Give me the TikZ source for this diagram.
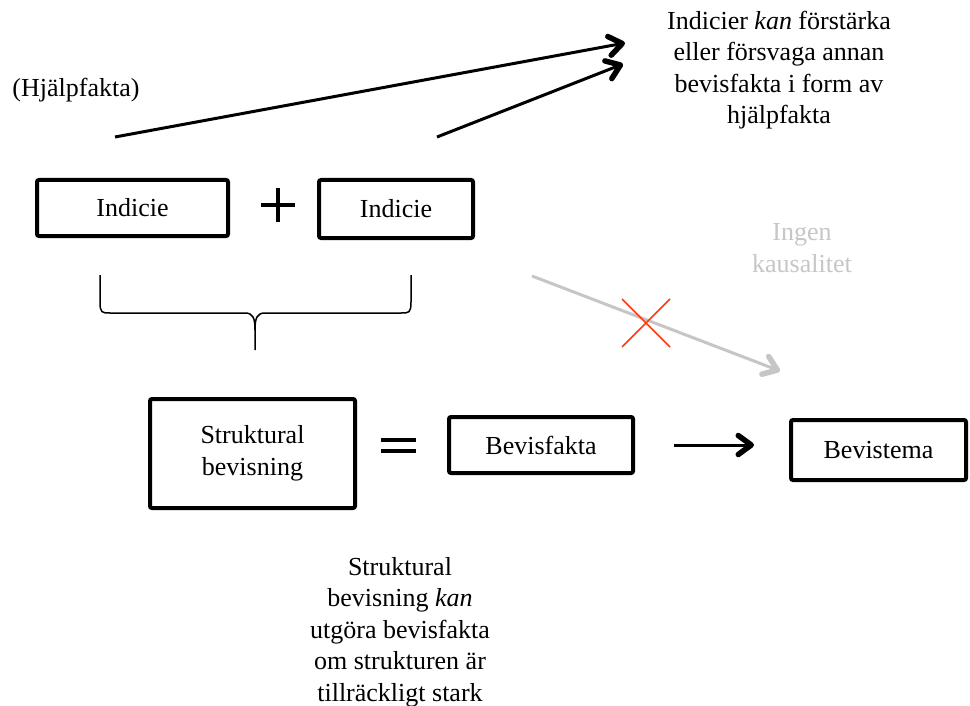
\documentclass[tikz,border=0pt]{standalone}
\usepackage{fontspec}
\setmainfont{Liberation Serif}
\usetikzlibrary{arrows.meta}
\definecolor{bvtext}{HTML}{000000}
\definecolor{bvgray}{HTML}{C6C6C6}
\definecolor{bvred}{HTML}{FF3A10}
\newcommand{\bvfont}{\fontsize{26}{31.5}\selectfont}
\tikzset{
  bevisbox/.style={
    draw=bvtext, line width=4pt, rounded corners=2pt,
    inner sep=0pt, align=center, font=\bvfont, text=bvtext
  },
  bevislabel/.style={
    align=center, font=\bvfont, text=bvtext, inner sep=0pt
  },
  bevisarrow/.style={
    -{Straight Barb[length=13pt,width=19pt,line width=2.5pt 1,round]}, line width=3pt, bvtext
  },
  bevisstroke/.style={line width=4pt, bvtext}
}

\begin{document}
\begin{tikzpicture}[x=1pt, y=-1pt]
  \useasboundingbox (0,0) rectangle (970,706);

  % Indicier
  \node[bevisbox, minimum width=191pt, minimum height=56pt] (ind1) at (132.5,208) {Indicie};
  \node[bevisbox, minimum width=154pt, minimum height=58pt] (ind2) at (396,209) {Indicie};
  \draw[bevisstroke, line width=3.5pt] (261,205) -- (295,205) (278,188) -- (278,222);

  % Klammer
  \draw[line width=1.5pt] (100,275) -- (100,302) .. controls (100,313) and (102,313) .. (110,313)
    -- (245,313) .. controls (253,313) and (255,318) .. (255,330) -- (255,350);
  \draw[line width=1.5pt] (411,275) -- (411,302) .. controls (411,313) and (409,313) .. (401,313)
    -- (265,313) .. controls (257,313) and (255,318) .. (255,330);

  % Bevisning
  \node[bevisbox, minimum width=205pt, minimum height=109pt] (struct) at (252.5,453.5) {Struktural\\bevisning};
  \draw[bevisstroke] (381,440) -- (416,440) (381,451) -- (416,451);
  \node[bevisbox, minimum width=184pt, minimum height=56pt] (fakta) at (541,445) {Bevisfakta};
  \node[bevisbox, minimum width=175pt, minimum height=60pt] (tema) at (878.5,450) {Bevistema};
  \draw[bevisarrow, shorten <=39pt, shorten >=35pt] (fakta.east) -- (fakta.east -| tema.west);

  % Texter
  \node[bevislabel] (hjalp) at (76,90) {(Hjälpfakta)};
  \node[bevislabel] (forstark) at (779,70)
    {Indicier \textit{kan} förstärka\\eller försvaga annan\\bevisfakta i form av\\hjälpfakta};
  \node[bevislabel, text=bvgray] (kausal) at (802,248) {Ingen\\kausalitet};
  \node[bevislabel] (strukttext) at (400,632)
    {Struktural\\bevisning \textit{kan}\\utgöra bevisfakta\\om strukturen är\\tillräckligt stark};

  % Pilar
  \coordinate (tail1) at (115,137);
  \coordinate (tail2) at (437,137);
  \coordinate (head1) at (625,43);
  \coordinate (head2) at (623,64);
  \draw[bevisarrow] (tail1) -- (head1);
  \draw[bevisarrow] (tail2) -- (head2);

  \coordinate (graytail) at (532,276);
  \coordinate (grayhead) at (780,371);
  \draw[bevisarrow, bvgray] (graytail) -- (grayhead);
  \coordinate (kryss) at (646,323);
  \draw[bvred, line width=1.5pt] ([shift={(-24,-24)}]kryss) -- ([shift={(24,24)}]kryss)
    ([shift={(-24,24)}]kryss) -- ([shift={(24,-24)}]kryss);
\end{tikzpicture}
\end{document}
